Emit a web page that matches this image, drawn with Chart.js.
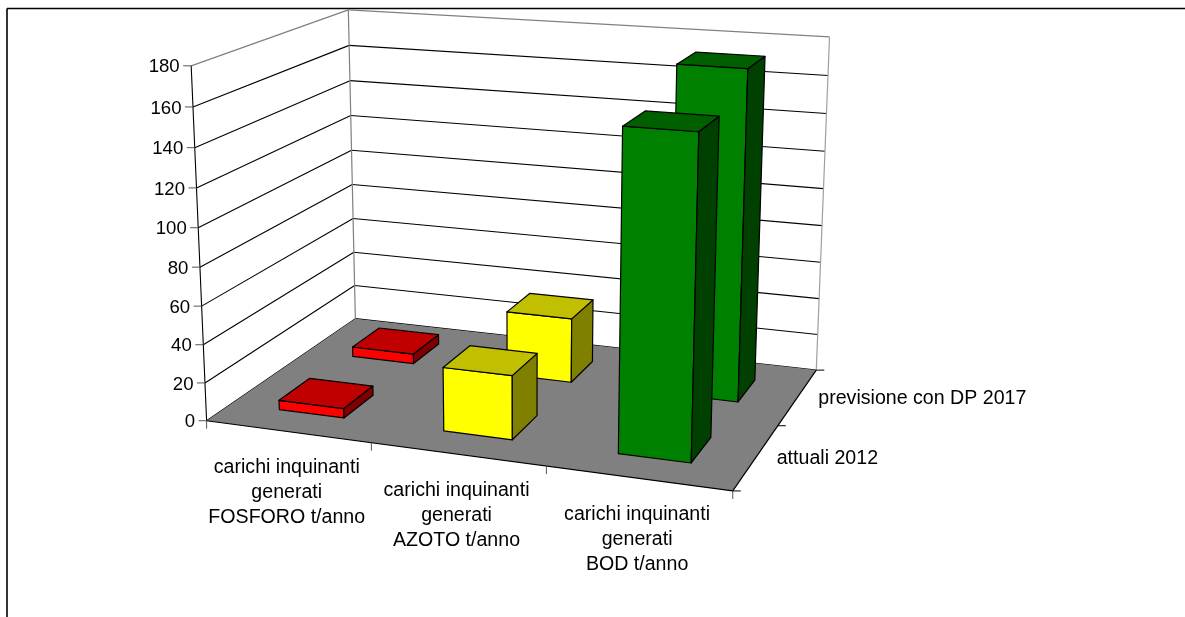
<!DOCTYPE html>
<html>
<head>
<meta charset="utf-8">
<style>html,body{margin:0;padding:0;background:#fff}canvas{display:block}</style>
<script src="https://cdn.jsdelivr.net/npm/chart.js@4/dist/chart.umd.min.js"></script>
</head>
<body>
<canvas id="c" width="1185" height="617"></canvas>
<script>
// ---- data ----
const categories = [
  ['carichi inquinanti','generati','FOSFORO t/anno'],
  ['carichi inquinanti','generati','AZOTO t/anno'],
  ['carichi inquinanti','generati','BOD t/anno']
];
const seriesNames = ['attuali 2012','previsione con DP 2017'];
const attuali2012 = [5, 33, 160];
const previsione2017 = [5.4, 35, 173];
const yTicks = [0,20,40,60,80,100,120,140,160,180];

// ---- styles ----
const frontColors = ['#ff0000','#ffff00','#008000'];
const topColors   = ['#c00000','#c0c000','#006000'];
const sideColors  = ['#800000','#808000','#004000'];
const TICK_FONT = '18.6px "Liberation Sans", Arial, sans-serif';
const LABEL_FONT = '19.6px "Liberation Sans", Arial, sans-serif';
const BAR_FRACTION = 0.4;

// ---- perspective box: world corners (X,Y,Z in 0..1) to screen ----
const calibration = [
  [0,0,0,207,421],[1,0,0,732.5,491],[1,1,0,816.5,370],[0,1,0,355,318.5],
  [0,0,1,191,65.5],[0,1,1,348.5,10],[1,1,1,829.5,37]
];
function solve(A,b){
  const n=b.length, M=A.map((r,i)=>[...r,b[i]]);
  for(let c=0;c<n;c++){
    let p=c; for(let r=c+1;r<n;r++) if(Math.abs(M[r][c])>Math.abs(M[p][c])) p=r;
    [M[c],M[p]]=[M[p],M[c]];
    for(let r=0;r<n;r++){ if(r===c) continue;
      const f=M[r][c]/M[c][c]; for(let k=c;k<=n;k++) M[r][k]-=f*M[c][k]; }
  }
  return M.map((r,i)=>r[n]/r[i]);
}
const P=(function(){
  const rows=[],rhs=[];
  for(const [X,Y,Z,pu,pv] of calibration){
    const u=pu/1000,v=pv/1000;
    rows.push([X,Y,Z,1,0,0,0,0,-u*X,-u*Y,-u*Z]); rhs.push(u);
    rows.push([0,0,0,0,X,Y,Z,1,-v*X,-v*Y,-v*Z]); rhs.push(v);
  }
  const N=rows[0].length;
  const A=Array.from({length:N},(_,i)=>Array.from({length:N},(_,j)=>rows.reduce((s,r)=>s+r[i]*r[j],0)));
  const b=Array.from({length:N},(_,i)=>rows.reduce((s,r,k)=>s+r[i]*rhs[k],0));
  return solve(A,b);
})();
function project(X,Y,Z){
  const w=P[8]*X+P[9]*Y+P[10]*Z+1;
  return [1000*(P[0]*X+P[1]*Y+P[2]*Z+P[3])/w, 1000*(P[4]*X+P[5]*Y+P[6]*Z+P[7])/w];
}
const dec=(s,v)=>s.getDecimalForPixel(s.getPixelForValue(v));
const dz=(s,v)=>(v-s.min)/(s.max-s.min);

function face(ctx,pts,fill){
  ctx.beginPath();
  pts.forEach((p,i)=>i?ctx.lineTo(p[0],p[1]):ctx.moveTo(p[0],p[1]));
  ctx.closePath();
  ctx.fillStyle=fill; ctx.fill();
  ctx.strokeStyle='#000'; ctx.lineWidth=1.2; ctx.lineJoin='round'; ctx.stroke();
}
function seg(ctx,a,b,color,width){
  ctx.beginPath(); ctx.moveTo(a[0],a[1]); ctx.lineTo(b[0],b[1]);
  ctx.strokeStyle=color; ctx.lineWidth=width||1; ctx.stroke();
}

// ---- 3D bars, drawn from the chart's own scales ----
class Bar3DController extends Chart.BarController {
  draw(){
    const ctx=this.chart.ctx, s=this.chart.scales, meta=this._cachedMeta;
    const row=this.index, half=BAR_FRACTION/2;
    const y0=dec(s.depth,row-half), y1=dec(s.depth,row+half);
    meta.data.forEach((el,i)=>{
      const v=this.getParsed(i).y;
      const x0=dec(s.x,i-half), x1=dec(s.x,i+half), z=dz(s.y,v);
      const base=dz(s.y,0);
      const c=(X,Y,Z)=>project(X,Y,Z);
      face(ctx,[c(x0,y0,base),c(x1,y0,base),c(x1,y0,z),c(x0,y0,z)],frontColors[i]);
      face(ctx,[c(x1,y0,base),c(x1,y1,base),c(x1,y1,z),c(x1,y0,z)],sideColors[i]);
      face(ctx,[c(x0,y0,z),c(x1,y0,z),c(x1,y1,z),c(x0,y1,z)],topColors[i]);
    });
  }
}
Bar3DController.id='bar3d';
Bar3DController.defaults=Chart.BarController.defaults;
Bar3DController.overrides=Chart.BarController.overrides;
Chart.register(Bar3DController);

// ---- frame, walls, floor, ticks and labels ----
const box3d={
  id:'box3d',
  beforeDatasetsDraw(chart){
    const ctx=chart.ctx, s=chart.scales;
    ctx.save();
    ctx.fillStyle='#fff'; ctx.fillRect(0,0,chart.width,chart.height);
    // outer frame
    seg(ctx,[7,8.5],[chart.width,8.5],'#000',1.6);
    seg(ctx,[7,8.5],[7,chart.height],'#000',1.6);
    // gridlines
    yTicks.forEach(t=>{
      const last=t===yTicks[yTicks.length-1], z=dz(s.y,t), c=last?'#808080':'#000', w=last?1.3:1.1;
      const a=project(0,0,z), b=project(0,1,z), d=project(1,1,z);
      seg(ctx,a,b,c,w); seg(ctx,b,d,c,w);
    });
    seg(ctx,project(0,1,0),project(0,1,1),'#808080',1.2);
    seg(ctx,project(1,1,0),project(1,1,1),'#a0a0a0',1.2);
    // floor
    const fl=project(0,0,0), fr=project(1,0,0), br=project(1,1,0), bl=project(0,1,0);
    ctx.beginPath(); ctx.moveTo(...fl); ctx.lineTo(...fr); ctx.lineTo(...br); ctx.lineTo(...bl); ctx.closePath();
    ctx.fillStyle='#808080'; ctx.fill();
    seg(ctx,project(0,0,0),project(0,0,1),'#000',1.1);
    seg(ctx,fl,fr,'#000',1.2); seg(ctx,fr,br,'#000',1.2);
    // value ticks and labels
    ctx.font=TICK_FONT; ctx.textBaseline='middle'; ctx.textAlign='right';
    yTicks.forEach(t=>{
      const p=project(0,0,dz(s.y,t));
      seg(ctx,[p[0]-8,p[1]],p,'#555');
      ctx.fillStyle='#000'; ctx.fillText(String(t),p[0]-11.5,p[1]+1.5);
    });
    // category ticks and labels
    const nx=categories.length, ny=seriesNames.length;
    for(let k=0;k<=nx;k++){ const p=project(k/nx,0,0); seg(ctx,p,[p[0],p[1]+8],'#555'); }
    ctx.font=LABEL_FONT; ctx.fillStyle='#000'; ctx.textAlign='center';
    categories.forEach((lines,i)=>{
      const p=project(dec(s.x,i),0,0);
      lines.forEach((l,j)=>ctx.fillText(l,p[0]-1,p[1]+36.5+j*25));
    });
    // depth ticks and labels
    for(let k=0;k<=ny;k++){ const p=project(1,k/ny,0); seg(ctx,p,[p[0]+8,p[1]],'#000'); }
    ctx.textAlign='left';
    seriesNames.forEach((l,i)=>{
      const p=project(1,dec(s.depth,i),0);
      ctx.fillText(l,p[0]+20.5,p[1]+2);
    });
    ctx.restore();
  }
};

new Chart(document.getElementById('c'),{
  type:'bar3d',
  data:{
    labels:categories.map(c=>c.join(' ')),
    datasets:[
      {label:seriesNames[0],data:attuali2012,backgroundColor:frontColors},
      {label:seriesNames[1],data:previsione2017,backgroundColor:frontColors}
    ]
  },
  options:{
    responsive:false,animation:false,
    layout:{padding:0},
    plugins:{legend:{display:false},title:{display:false},tooltip:{enabled:false}},
    scales:{
      x:{type:'category',offset:true,display:false},
      y:{type:'linear',min:0,max:180,display:false},
      depth:{type:'category',axis:'x',labels:seriesNames,offset:true,display:false}
    }
  },
  plugins:[box3d]
});
</script>
</body>
</html>
